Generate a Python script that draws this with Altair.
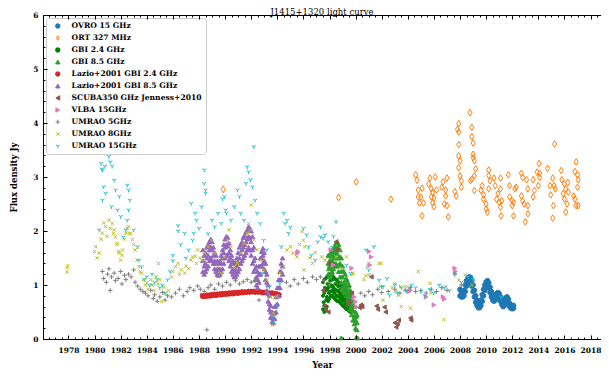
import altair as alt
import pandas as pd

SERIES = ["OVRO 15 GHz", "ORT 327 MHz", "GBI 2.4 GHz", "GBI 8.5 GHz",
          "Lazio+2001 GBI 2.4 GHz", "Lazio+2001 GBI 8.5 GHz",
          "SCUBA350 GHz Jenness+2010", "VLBA 15GHz",
          "UMRAO 5GHz", "UMRAO 8GHz", "UMRAO 15GHz"]

# ---------------- OVRO 15 GHz (dense band: two readings per epoch) ----------
ovro_t = [2008.0, 2008.1, 2008.2, 2008.3, 2008.4, 2008.5, 2008.6, 2008.7, 2008.8, 2008.9,
          2009.0, 2009.1, 2009.2, 2009.3, 2009.4, 2009.5, 2009.6, 2009.7, 2009.8, 2009.9,
          2010.0, 2010.1, 2010.2, 2010.3, 2010.4, 2010.5, 2010.6, 2010.7, 2010.8, 2010.9,
          2011.0, 2011.1, 2011.2, 2011.3, 2011.4, 2011.5, 2011.6, 2011.7, 2011.8, 2011.9,
          2012.0, 2012.1]
ovro_lo = [0.80, 0.78, 0.78, 0.80, 0.88, 0.98, 1.05, 1.08, 1.05, 0.98,
           0.88, 0.78, 0.68, 0.62, 0.58, 0.58, 0.62, 0.70, 0.80, 0.90,
           0.98, 1.00, 0.95, 0.86, 0.78, 0.72, 0.70, 0.72, 0.76, 0.78,
           0.76, 0.70, 0.64, 0.60, 0.62, 0.68, 0.70, 0.66, 0.60, 0.57,
           0.56, 0.57]
ovro_hi = [0.92, 0.88, 0.86, 0.90, 1.00, 1.08, 1.13, 1.15, 1.14, 1.08,
           1.00, 0.90, 0.80, 0.72, 0.66, 0.66, 0.72, 0.82, 0.92, 1.00,
           1.06, 1.08, 1.04, 0.96, 0.88, 0.80, 0.78, 0.80, 0.84, 0.86,
           0.84, 0.78, 0.72, 0.68, 0.70, 0.76, 0.78, 0.74, 0.66, 0.63,
           0.62, 0.62]

# ---------------- ORT 327 MHz ----------------
ort_year = [1989.85, 1998.7, 2000.05, 2002.7,
            2004.6, 2004.7, 2004.8, 2004.8, 2005.0, 2005.1, 2004.9, 2005.2, 2005.1,
            2005.7, 2006.1, 2005.6, 2005.8, 2005.9, 2005.8, 2006.0, 2005.9, 2006.0, 2006.2,
            2006.7, 2006.6, 2006.9, 2006.9, 2006.8, 2007.0, 2007.1, 2007.0,
            2007.6, 2007.7,
            2007.9, 2007.8, 2007.9, 2007.9, 2007.9, 2008.0, 2007.9, 2008.0, 2008.1, 2008.1,
            2008.76, 2008.9, 2008.9, 2009.0, 2009.0, 2009.0, 2009.1, 2009.2, 2009.1, 2008.9, 2008.8, 2009.1,
            2010.2, 2010.2, 2010.3, 2009.7, 2009.6, 2009.8, 2009.8, 2010.0, 2010.0, 2010.1, 2010.2,
            2010.6, 2011.1, 2010.7, 2010.9, 2010.8, 2011.0, 2011.1, 2011.15, 2011.2, 2011.1,
            2011.7, 2011.8, 2012.0, 2011.8, 2012.1, 2012.2, 2012.3, 2012.0, 2012.1,
            2012.7, 2012.8, 2012.7, 2012.8, 2012.9, 2013.0, 2013.1, 2013.2, 2013.2, 2013.2,
            2014.06, 2013.9, 2014.1, 2013.6, 2013.7, 2013.6, 2014.0, 2014.1,
            2014.7, 2014.9, 2014.95, 2015.1, 2015.15, 2015.1, 2015.25, 2015.3, 2015.2,
            2015.75, 2015.8, 2016.0, 2016.1, 2015.9, 2016.0, 2016.2, 2016.1, 2016.25, 2016.3,
            2016.9, 2016.8, 2017.0, 2017.05, 2017.0, 2016.7, 2016.8, 2016.9, 2017.05]
ort_flux = [2.77, 2.62, 2.91, 2.59,
            3.04, 2.94, 2.76, 2.63, 2.63, 2.79, 2.52, 2.52, 2.28,
            2.98, 3.00, 2.87, 2.78, 2.72, 2.63, 2.61, 2.52, 2.45, 2.76,
            2.91, 2.81, 2.76, 2.65, 2.50, 2.47, 2.26, 2.98,
            2.73, 2.65,
            3.99, 3.88, 3.83, 3.60, 3.39, 3.30, 3.17, 3.02, 2.93, 2.81,
            4.19, 3.92, 3.75, 3.63, 3.42, 3.36, 3.30, 3.15, 3.02, 2.96, 2.93, 2.75,
            3.13, 3.03, 2.93, 2.84, 2.75, 2.67, 2.59, 2.50, 2.41, 2.35, 2.78,
            2.98, 2.98, 2.84, 2.69, 2.59, 2.53, 2.44, 2.28, 2.56, 2.78,
            3.04, 2.84, 2.56, 2.63, 2.53, 2.78, 2.81, 2.47, 2.28,
            3.07, 2.99, 2.65, 2.56, 2.50, 2.17, 2.95, 2.78, 2.47, 2.32,
            3.25, 3.09, 3.07, 2.95, 2.75, 2.63, 2.84, 2.99,
            3.16, 2.84, 2.67, 2.98, 2.47, 2.24, 3.61, 2.78, 2.84,
            3.12, 2.95, 2.87, 2.78, 2.69, 2.59, 2.50, 2.35, 2.90, 2.72,
            3.28, 3.10, 3.04, 2.95, 2.81, 2.65, 2.59, 2.47, 2.47]

# ---------------- GBI 2.4 GHz (low / mid / high readings per epoch + scatter) ----------
gbi24_t = [1997.5, 1997.6, 1997.7, 1997.8, 1997.9, 1998.0, 1998.1, 1998.2, 1998.3, 1998.4, 1998.5,
           1998.6, 1998.7, 1998.8, 1998.9, 1999.0, 1999.1, 1999.2, 1999.3, 1999.4, 1999.5, 1999.6]
gbi24_lo = [0.55, 0.50, 0.55, 0.60, 0.70, 0.75, 0.80, 0.80, 0.78, 0.75, 0.72,
            0.70, 0.70, 0.68, 0.65, 0.62, 0.60, 0.58, 0.55, 0.55, 0.52, 0.50]
gbi24_mid = [0.80, 0.85, 0.90, 0.92, 0.95, 0.98, 1.00, 0.98, 0.95, 0.92, 0.90,
             0.90, 0.88, 0.85, 0.82, 0.80, 0.78, 0.75, 0.72, 0.70, 0.68, 0.65]
gbi24_hi = [1.05, 1.10, 1.12, 1.15, 1.18, 1.20, 1.20, 1.18, 1.15, 1.12, 1.10,
            1.08, 1.05, 1.02, 1.00, 0.98, 0.95, 0.92, 0.88, 0.85, 0.82, 0.80]
gbi24_sc_year = [1997.55, 1997.65, 1997.75, 1997.85, 1997.95, 1998.05, 1998.15, 1998.25,
                 1998.35, 1998.45, 1998.55, 1998.65, 1998.75, 1998.85, 1998.95, 1999.05,
                 1999.15, 1999.25, 1999.35, 1999.45, 1999.55, 1997.6, 1997.8, 1998.0,
                 1998.2, 1998.4, 1998.6, 1998.8, 1999.0, 1999.2, 1999.4]
gbi24_sc_flux = [0.68, 0.95, 0.72, 1.02, 0.85, 1.08, 0.88, 1.10, 0.86, 1.02, 0.80, 0.98,
                 0.78, 0.93, 0.74, 0.88, 0.70, 0.84, 0.64, 0.78, 0.60, 0.62, 0.78, 0.88,
                 0.90, 0.85, 0.80, 0.76, 0.71, 0.66, 0.62]

# ---------------- GBI 8.5 GHz ----------------
gbi85_t = [1997.9, 1998.0, 1998.1, 1998.2, 1998.3, 1998.4, 1998.5, 1998.6, 1998.7, 1998.8,
           1998.9, 1999.0, 1999.1, 1999.2, 1999.3, 1999.4, 1999.5, 1999.6, 1999.7, 1999.8,
           1999.9, 2000.0, 2000.1]
gbi85_lo = [1.20, 1.15, 1.20, 1.25, 1.30, 1.35, 1.40, 1.35, 1.25, 1.15,
            1.05, 0.95, 0.90, 0.85, 0.80, 0.72, 0.65, 0.55, 0.45, 0.35,
            0.28, 0.20, 0.17]
gbi85_mid = [1.40, 1.35, 1.40, 1.45, 1.50, 1.55, 1.60, 1.58, 1.50, 1.40,
             1.25, 1.15, 1.05, 1.00, 0.95, 0.90, 0.82, 0.72, 0.62, 0.52,
             0.42, 0.35, 0.30]
gbi85_hi = [1.55, 1.55, 1.60, 1.62, 1.68, 1.72, 1.78, 1.80, 1.75, 1.65,
            1.50, 1.35, 1.25, 1.20, 1.12, 1.05, 1.00, 0.90, 0.80, 0.70,
            0.60, 0.50, 0.45]
gbi85_sc_year = [1997.95, 1998.05, 1998.15, 1998.25, 1998.35, 1998.45, 1998.55, 1998.65,
                 1998.75, 1998.85, 1998.95, 1999.05, 1999.15, 1999.25, 1999.35, 1999.45,
                 1999.55, 1999.65, 1999.75, 1999.85, 1999.95, 2000.05,
                 1998.9, 2000.05, 2000.15]
gbi85_sc_flux = [1.30, 1.47, 1.30, 1.55, 1.40, 1.64, 1.50, 1.70, 1.38, 1.52, 1.15, 1.25,
                 0.98, 1.10, 0.88, 0.98, 0.75, 0.82, 0.55, 0.62, 0.35, 0.42,
                 0.02, 0.03, 0.02]

# ---------------- Lazio+2001 GBI 2.4 GHz ----------------
lazio24_t = [1988.2, 1988.3, 1988.4, 1988.5, 1988.6, 1988.7, 1988.8, 1988.9, 1989.0, 1989.1,
             1989.2, 1989.3, 1989.4, 1989.5, 1989.6, 1989.7, 1989.8, 1989.9, 1990.0, 1990.1,
             1990.2, 1990.3, 1990.4, 1990.5, 1990.6, 1990.7, 1990.8, 1990.9, 1991.0, 1991.1,
             1991.2, 1991.3, 1991.4, 1991.5, 1991.6, 1991.7, 1991.8, 1991.9, 1992.0, 1992.1,
             1992.2, 1992.3, 1992.4, 1992.5, 1992.6, 1992.7, 1992.8, 1992.9, 1993.0, 1993.1,
             1993.2, 1993.3, 1993.4, 1993.5, 1993.6, 1993.7, 1993.8, 1993.9, 1994.0, 1994.1,
             1994.2]
lazio24_lo = [0.78, 0.77, 0.78, 0.77, 0.78, 0.78, 0.79, 0.78, 0.79, 0.79,
              0.80, 0.79, 0.80, 0.80, 0.81, 0.80, 0.81, 0.81, 0.82, 0.81,
              0.82, 0.82, 0.82, 0.83, 0.82, 0.83, 0.83, 0.84, 0.83, 0.84,
              0.84, 0.85, 0.84, 0.85, 0.85, 0.85, 0.86, 0.85, 0.86, 0.86,
              0.86, 0.85, 0.86, 0.85, 0.86, 0.85, 0.85, 0.84, 0.85, 0.84,
              0.84, 0.83, 0.84, 0.83, 0.83, 0.82, 0.83, 0.82, 0.81, 0.80,
              0.79]
lazio24_hi = [0.82, 0.81, 0.82, 0.82, 0.83, 0.82, 0.83, 0.83, 0.84, 0.83,
              0.84, 0.84, 0.85, 0.84, 0.85, 0.85, 0.86, 0.85, 0.86, 0.86,
              0.86, 0.87, 0.86, 0.87, 0.87, 0.87, 0.88, 0.87, 0.88, 0.88,
              0.88, 0.89, 0.88, 0.89, 0.88, 0.89, 0.90, 0.89, 0.90, 0.89,
              0.90, 0.89, 0.90, 0.89, 0.89, 0.89, 0.88, 0.88, 0.88, 0.88,
              0.87, 0.87, 0.87, 0.86, 0.87, 0.86, 0.86, 0.85, 0.85, 0.84,
              0.83]

# ---------------- Lazio+2001 GBI 8.5 GHz ----------------
lazio85_t = [1988.3, 1988.4, 1988.5, 1988.6, 1988.7, 1988.8, 1988.9, 1989.0, 1989.1, 1989.2,
             1989.3, 1989.4, 1989.5, 1989.6, 1989.7, 1989.8, 1989.9, 1990.0, 1990.1, 1990.2,
             1990.3, 1990.4, 1990.5, 1990.6, 1990.7, 1990.8, 1990.9, 1991.0, 1991.1, 1991.2,
             1991.3, 1991.4, 1991.5, 1991.6, 1991.7, 1991.8, 1991.9, 1992.0, 1992.1, 1992.2,
             1992.3, 1992.4, 1992.5, 1992.6, 1992.7, 1992.8, 1992.9, 1993.0, 1993.1, 1993.2,
             1993.3, 1993.4, 1993.5, 1993.6, 1993.7, 1993.8, 1993.9, 1994.0, 1994.1, 1994.2,
             1994.3, 1994.4]
lazio85_lo = [1.25, 1.20, 1.25, 1.30, 1.35, 1.45, 1.50, 1.45, 1.40, 1.30,
              1.25, 1.20, 1.18, 1.20, 1.25, 1.30, 1.40, 1.50, 1.55, 1.55,
              1.45, 1.35, 1.25, 1.20, 1.15, 1.15, 1.20, 1.25, 1.30, 1.40,
              1.45, 1.50, 1.55, 1.60, 1.65, 1.70, 1.65, 1.55, 1.40, 1.25,
              1.10, 1.00, 0.95, 1.05, 1.20, 1.35, 1.40, 1.30, 1.10, 0.90,
              0.70, 0.55, 0.40, 0.32, 0.30, 0.38, 0.50, 0.65, 0.80, 0.95,
              1.10, 1.20]
lazio85_mid = [1.45, 1.35, 1.40, 1.50, 1.55, 1.65, 1.70, 1.65, 1.55, 1.45,
               1.40, 1.30, 1.28, 1.30, 1.40, 1.50, 1.60, 1.70, 1.75, 1.72,
               1.60, 1.50, 1.40, 1.30, 1.25, 1.28, 1.35, 1.42, 1.50, 1.58,
               1.65, 1.70, 1.75, 1.80, 1.85, 1.90, 1.88, 1.80, 1.65, 1.45,
               1.30, 1.15, 1.10, 1.20, 1.35, 1.50, 1.55, 1.45, 1.25, 1.05,
               0.85, 0.65, 0.50, 0.40, 0.38, 0.48, 0.62, 0.80, 0.95, 1.10,
               1.25, 1.35]
lazio85_hi = [1.65, 1.55, 1.60, 1.70, 1.75, 1.80, 1.85, 1.80, 1.70, 1.60,
              1.55, 1.45, 1.40, 1.45, 1.55, 1.65, 1.75, 1.85, 1.90, 1.88,
              1.78, 1.65, 1.55, 1.45, 1.40, 1.42, 1.50, 1.60, 1.70, 1.75,
              1.80, 1.88, 1.92, 1.98, 2.02, 2.08, 2.05, 2.00, 1.90, 1.70,
              1.50, 1.35, 1.25, 1.35, 1.50, 1.62, 1.68, 1.60, 1.40, 1.20,
              1.00, 0.80, 0.62, 0.50, 0.48, 0.60, 0.78, 0.95, 1.10, 1.25,
              1.40, 1.50]

# ---------------- SCUBA350 GHz Jenness+2010 ----------------
scuba_year = [1997.5, 1997.6, 1997.7, 1997.9, 1998.0, 1998.2, 1998.5, 1998.55, 1999.4, 1999.45,
              1999.7, 2000.3, 2000.4, 2000.5, 2001.2, 2001.6, 2001.7, 2002.2, 2002.3, 2003.0,
              2003.1, 2003.2, 2003.3, 2004.2, 2004.25]
scuba_flux = [0.90, 0.61, 0.54, 0.50, 1.40, 1.37, 1.80, 1.65, 0.65, 0.70,
              0.85, 0.58, 0.63, 0.60, 1.15, 0.61, 0.55, 0.59, 0.50, 0.30,
              0.22, 0.28, 0.35, 0.39, 0.35]

# ---------------- VLBA 15GHz ----------------
vlba_year = [1995.55, 1995.6, 1998.1, 1998.3, 1999.7, 1999.9, 2000.0, 2000.05, 2001.05, 2001.1,
             2001.2, 2004.1, 2004.2, 2005.4, 2006.0, 2006.7, 2006.8, 2007.6, 2007.65]
vlba_flux = [1.59, 1.62, 1.65, 1.37, 1.31, 0.78, 0.69, 0.60, 1.62, 1.37,
             1.52, 0.88, 0.90, 0.78, 0.63, 0.78, 0.74, 1.31, 1.25]

# ---------------- UMRAO 5GHz ----------------
u5_year = [1980.6, 1980.7, 1980.9, 1981.0, 1981.1, 1981.2, 1981.3, 1981.5, 1981.6, 1981.8,
           1982.0, 1982.1, 1982.3, 1982.4, 1982.6, 1982.8, 1983.0, 1983.1, 1983.3, 1983.5,
           1983.7, 1983.9, 1984.1, 1984.3, 1984.5, 1984.6, 1984.8, 1985.0, 1985.2, 1985.4,
           1985.6, 1985.9, 1986.2, 1986.5, 1986.8, 1987.1, 1987.3, 1987.6, 1987.9, 1988.1,
           1988.4, 1988.6, 1988.7, 1988.9, 1989.2, 1989.5, 1989.8, 1990.1, 1990.4, 1990.8,
           1991.1, 1991.4, 1991.7, 1992.0, 1992.3, 1992.6, 1994.7, 1995.0, 1995.3, 1995.6,
           1996.0, 1996.3, 1996.7, 1997.0, 1997.3, 1997.6, 1998.0, 2000.4, 2000.7, 2001.0,
           2001.3, 2001.7, 2002.0, 2002.5, 2003.0, 2003.4, 2003.8, 2004.2, 2004.6, 2005.0,
           2005.4, 2005.8, 2006.2, 2006.6, 2007.0, 2007.6, 2008.1]
u5_flux = [1.25, 1.12, 1.05, 1.20, 1.30, 0.90, 1.15, 1.22, 1.08, 1.12,
           1.25, 1.02, 1.18, 1.10, 1.20, 1.15, 1.28, 1.05, 0.98, 0.92,
           0.88, 0.85, 0.80, 0.90, 0.75, 0.82, 0.70, 0.78, 0.86, 0.72,
           0.80, 0.78, 0.85, 0.92, 0.80, 0.88, 0.95, 0.90, 0.98, 0.92,
           0.88, 0.17, 0.95, 1.00, 0.92, 1.02, 0.98, 1.05, 1.00, 1.08,
           1.02, 1.06, 1.10, 1.05, 1.08, 0.72, 1.05, 0.98, 1.10, 1.02,
           1.12, 1.05, 1.15, 1.10, 1.15, 1.08, 1.00, 0.85, 0.80, 0.88,
           0.82, 0.92, 0.86, 0.88, 0.92, 0.85, 0.90, 0.95, 0.88, 0.90,
           0.85, 0.92, 0.88, 0.95, 0.90, 1.20, 1.00]

# ---------------- UMRAO 8GHz ----------------
u8_year = [1977.9, 1977.9, 1977.95,
           1980.0, 1980.1, 1980.2, 1980.35, 1980.5, 1980.6, 1980.7, 1980.85, 1980.95, 1981.1,
           1981.2, 1981.35, 1981.45, 1981.5, 1981.6, 1981.7, 1981.75, 1981.85, 1981.9, 1982.0,
           1982.1, 1982.15, 1982.3, 1982.4, 1982.5, 1982.6, 1982.7, 1982.75, 1982.9, 1983.0,
           1983.1, 1983.25, 1983.4, 1983.5, 1983.6, 1983.75, 1983.9, 1984.0, 1984.1, 1984.3,
           1984.4, 1984.55, 1984.7, 1984.85, 1984.9, 1985.0, 1985.15, 1985.3, 1985.4, 1985.65,
           1985.9, 1986.0, 1986.2, 1986.4, 1986.5, 1986.65, 1986.9, 1987.0, 1987.2, 1987.4,
           1987.5, 1987.7, 1987.8, 1987.9, 1988.1, 1988.2, 1988.45, 1988.7, 1988.95, 1989.2,
           1989.45, 1989.7, 1989.95, 1990.2, 1990.3, 1990.45, 1990.7, 1990.95, 1991.2, 1991.45,
           1991.7, 1991.8, 1991.95, 1992.0, 1992.2, 1992.45, 1992.7, 1992.95, 1993.2, 1993.5,
           1993.6, 1993.7, 1993.95, 1994.2, 1994.5, 1994.75, 1995.0, 1995.2, 1995.5, 1995.7,
           1995.9, 1996.0, 1996.1, 1996.05, 1996.5, 1996.7, 1996.9, 1997.4, 1997.65, 1998.5,
           1998.9, 1999.3, 1999.75, 1999.8, 2000.65, 2000.8, 2000.9, 2001.0, 2001.05, 2001.8,
           2001.95, 2001.9, 2002.1, 2002.8, 2003.0, 2003.1, 2003.3, 2003.45, 2003.5, 2003.8,
           2004.2, 2004.8, 2004.0, 2005.7, 2005.8, 2006.9, 2006.75, 2007.9, 2008.4, 2008.9]
u8_flux = [1.24, 1.32, 1.36,
           1.62, 1.71, 1.50, 1.59, 1.85, 1.96, 2.15, 2.08, 1.90, 2.20,
           2.05, 2.14, 1.95, 2.02, 1.89, 1.75, 1.77, 1.62, 1.59, 1.46,
           1.55, 1.65, 1.85, 1.96, 2.05, 2.08, 1.95, 1.96, 1.84, 1.75,
           1.65, 1.46, 1.34, 1.25, 1.22, 1.10, 1.00, 1.04, 0.92, 1.10,
           1.00, 0.90, 1.15, 1.02, 1.40, 1.10, 0.69, 0.96, 0.85, 0.90,
           1.15, 1.25, 1.34, 1.40, 1.20, 1.28, 1.22, 1.35, 1.30, 1.46,
           1.52, 1.53, 1.40, 1.65, 1.50, 1.46, 1.59, 1.71, 1.83, 1.59,
           1.34, 1.22, 1.52, 1.83, 2.02, 1.71, 1.34, 1.40, 1.59, 1.77,
           1.96, 2.14, 2.02, 2.48, 1.83, 1.65, 1.46, 1.28, 1.09, 0.78,
           0.26, 0.48, 0.78, 1.22, 1.34, 1.65, 1.71, 1.59, 1.52, 1.75,
           1.99, 1.83, 1.71, 1.28, 1.50, 1.40, 1.60, 1.52, 1.46, 1.52,
           1.31, 1.52, 1.19, 1.22, 1.10, 1.17, 1.34, 1.40, 1.19, 1.40,
           1.40, 0.97, 0.72, 0.95, 1.03, 0.88, 0.81, 0.97, 0.60, 0.97,
           0.57, 1.25, 0.97, 1.03, 0.85, 0.97, 0.36, 1.09, 1.19, 1.00]

# ---------------- UMRAO 15GHz ----------------
u15_year = [1980.35, 1980.5, 1980.55, 1980.6, 1980.6, 1980.7, 1980.85, 1980.8, 1981.1, 1981.2,
            1981.3, 1981.35, 1981.5, 1981.6, 1981.6, 1981.75, 1981.9, 1982.0, 1982.2, 1982.4,
            1982.5, 1982.5, 1982.6, 1982.6, 1982.7, 1983.0, 1983.3, 1983.4, 1983.6, 1983.8,
            1984.0, 1984.2, 1984.4, 1984.6, 1984.8, 1985.0, 1985.2, 1985.4, 1985.6, 1985.8,
            1986.0, 1986.0, 1986.4, 1986.4, 1986.6, 1986.9, 1987.0, 1987.2, 1987.4, 1987.5,
            1987.6, 1987.7, 1987.8, 1988.0, 1988.2, 1988.4, 1988.4, 1988.5, 1988.5, 1988.7,
            1989.0, 1989.2, 1989.45, 1989.7, 1989.8, 1989.95, 1990.05, 1990.1, 1990.45, 1990.7,
            1990.95, 1991.1, 1991.2, 1991.45, 1991.6, 1991.7, 1991.8, 1991.95, 1992.1, 1992.2,
            1992.3, 1992.45, 1992.7, 1992.85, 1992.95, 1993.2, 1993.4, 1993.6, 1993.7, 1994.0,
            1994.2, 1994.3, 1994.5, 1994.6, 1994.75, 1994.85, 1995.0, 1996.0, 1996.25, 1996.4,
            1996.6, 1996.9, 1997.1, 1997.3, 1997.3, 1997.5, 1997.65, 1997.9, 1998.2, 1998.3,
            1998.5, 1999.3, 1999.6, 2000.8, 2001.0, 2001.4, 2001.8, 2002.0, 2002.1, 2002.4,
            2002.6, 2003.0, 2003.2, 2003.5, 2003.9, 2004.3, 2004.6, 2005.0, 2005.3, 2005.7,
            2006.0, 2006.4, 2006.8, 2007.2, 2007.6, 2008.1, 2008.6, 2009.0, 2011.15]
u15_flux = [2.02, 3.25, 3.15, 2.57, 3.13, 2.82, 2.70, 3.20, 3.38, 3.28,
            2.45, 3.20, 2.94, 3.47, 2.76, 2.39, 2.64, 2.27, 1.89, 2.02,
            2.20, 2.85, 2.76, 2.39, 2.57, 2.02, 1.71, 1.46, 1.34, 1.10,
            1.15, 1.00, 1.20, 1.05, 1.10, 0.95, 1.00, 0.85, 1.10, 1.25,
            1.55, 1.45, 2.10, 2.00, 1.75, 1.96, 1.50, 1.65, 2.51, 1.83,
            1.96, 2.33, 2.20, 2.05, 2.45, 3.13, 2.88, 2.70, 2.76, 1.95,
            2.20, 2.08, 2.33, 2.14, 2.60, 2.64, 2.39, 2.33, 2.20, 2.45,
            2.76, 2.64, 2.33, 2.20, 2.88, 3.19, 3.10, 2.95, 2.82, 3.56,
            2.57, 2.33, 2.14, 1.22, 1.83, 1.65, 0.97, 0.42, 0.29, 0.60,
            1.03, 1.71, 2.33, 2.14, 2.20, 1.96, 2.07, 2.05, 1.93, 1.71,
            1.55, 1.46, 1.80, 2.08, 1.90, 1.87, 1.93, 1.80, 1.70, 1.90,
            2.17, 1.37, 1.22, 1.65, 1.28, 1.71, 1.09, 0.97, 0.97, 1.12,
            0.81, 1.00, 0.85, 0.95, 0.90, 1.00, 0.95, 0.88, 0.80, 0.92,
            0.85, 1.00, 0.95, 0.90, 1.20, 1.05, 1.15, 1.10, 0.78]

# ---------------- axis ticks ----------------
x_major = [1978, 1980, 1982, 1984, 1986, 1988, 1990, 1992, 1994, 1996, 1998,
           2000, 2002, 2004, 2006, 2008, 2010, 2012, 2014, 2016, 2018]
x_minor = [1976.5 + 0.5 * i for i in range(85)]
y_major = [0, 1, 2, 3, 4, 5, 6]
y_minor = [round(0.2 * i, 1) for i in range(31)]

# ---------------- marker styles (per series, in SERIES order) ----------------
SHAPES = ["circle",
          "M0,-1L0.62,0L0,1L-0.62,0Z",
          "circle",
          "triangle-up",
          "circle",
          "triangle-up",
          "triangle-left",
          "triangle-right",
          "M-1,0L1,0M0,-1L0,1",
          "M-0.8,-0.8L0.8,0.8M-0.8,0.8L0.8,-0.8",
          "M0,0L0,1M0,0L-0.87,-0.5M0,0L0.87,-0.5"]
STROKES = ["#1f77b4", "#ff7f0e", "#008000", "#2ca02c", "#d62728", "#9467bd",
           "#8c564b", "#e377c2", "#7f7f7f", "#bcbd22", "#17becf"]
FILLS = ["#1f77b4", "rgba(255,255,255,0)", "#008000", "#2ca02c", "#d62728", "#9467bd",
         "#8c564b", "#e377c2", "#7f7f7f", "#bcbd22", "#17becf"]
SIZES = [22, 44, 9, 20, 7, 20, 18, 18, 20, 18, 22]

# ---------------- assemble ----------------
rows = []


def add(name, years, fluxes):
    assert len(years) == len(fluxes), name
    size = SIZES[SERIES.index(name)]
    for t, f in zip(years, fluxes):
        rows.append({"year": t, "flux": f, "series": name, "msize": size})


add(SERIES[0], ovro_t, ovro_lo)
add(SERIES[0], ovro_t, ovro_hi)
add(SERIES[1], ort_year, ort_flux)
add(SERIES[2], gbi24_t, gbi24_lo)
add(SERIES[2], gbi24_t, gbi24_mid)
add(SERIES[2], gbi24_t, gbi24_hi)
add(SERIES[2], gbi24_sc_year, gbi24_sc_flux)
add(SERIES[3], gbi85_t, gbi85_lo)
add(SERIES[3], gbi85_t, gbi85_mid)
add(SERIES[3], gbi85_t, gbi85_hi)
add(SERIES[3], gbi85_sc_year, gbi85_sc_flux)
add(SERIES[4], lazio24_t, lazio24_lo)
add(SERIES[4], lazio24_t, lazio24_hi)
add(SERIES[5], lazio85_t, lazio85_lo)
add(SERIES[5], lazio85_t, lazio85_mid)
add(SERIES[5], lazio85_t, lazio85_hi)
add(SERIES[6], scuba_year, scuba_flux)
add(SERIES[7], vlba_year, vlba_flux)
add(SERIES[8], u5_year, u5_flux)
add(SERIES[9], u8_year, u8_flux)
add(SERIES[10], u15_year, u15_flux)
df = pd.DataFrame(rows)

W, H = 558, 324
FONT = "DejaVu Serif"
xs = alt.Scale(domain=[1976.05, 2018.8], nice=False, zero=False)
ys = alt.Scale(domain=[0, 6], nice=False, zero=False)

leg = alt.Legend(title=None, orient="top-left", offset=3, fillColor="rgba(255,255,255,0.85)",
                 strokeColor="#cccccc", cornerRadius=3, padding=4,
                 labelFont=FONT, labelFontWeight="bold", labelFontSize=7.6, labelLimit=400,
                 labelColor="black", rowPadding=4, symbolStrokeWidth=1, labelOffset=10,
                 symbolOffset=4, clipHeight=8, symbolSize=20)

lab = dict(labelFont=FONT, labelFontWeight="bold", labelFontSize=7.5, labelColor="black",
           labelFlush=False, labelOverlap=False, titleFont=FONT, titleFontWeight="bold",
           titleFontSize=8.5, titleColor="black")

points = alt.Chart(df).mark_point(strokeWidth=1, opacity=1).encode(
    x=alt.X("year:Q", scale=xs,
            axis=alt.Axis(values=x_major, format="d", ticks=False, domain=True,
                          domainColor="black", domainWidth=1, grid=False,
                          labelPadding=7, title="Year", titlePadding=7, **lab)),
    y=alt.Y("flux:Q", scale=ys,
            axis=alt.Axis(values=y_major, format="d", ticks=False, domain=True,
                          domainColor="black", domainWidth=1, grid=False,
                          labelPadding=5, title="Flux density Jy", titlePadding=14, **lab)),
    shape=alt.Shape("series:N", scale=alt.Scale(domain=SERIES, range=SHAPES), legend=leg),
    stroke=alt.Stroke("series:N", scale=alt.Scale(domain=SERIES, range=STROKES), legend=leg),
    fill=alt.Fill("series:N", scale=alt.Scale(domain=SERIES, range=FILLS), legend=leg),
    size=alt.Size("msize:Q", scale=None, legend=None),
)


def ticks_axis(orient, values, length):
    # an axis shifted inwards by its own tick length, so the ticks point into the plot
    return alt.Axis(orient=orient, values=values, offset=-length, tickSize=length,
                    ticks=True, labels=False, domain=False, grid=False, title=None,
                    tickColor="black", tickWidth=1, zindex=1)


def tick_layer(xorient, yorient, xvals, yvals, length):
    yaxis = ticks_axis(yorient, yvals, length) if yorient else None
    return alt.Chart(df).mark_point(opacity=0).encode(
        x=alt.X("year:Q", scale=xs, axis=ticks_axis(xorient, xvals, length)),
        y=alt.Y("flux:Q", scale=ys, axis=yaxis),
    )


top_line = alt.Chart(df).mark_point(opacity=0).encode(
    x=alt.X("year:Q", scale=xs,
            axis=alt.Axis(orient="top", values=x_major, ticks=False, labels=False, domain=True,
                          domainColor="black", domainWidth=1, grid=False, title=None)),
    y=alt.Y("flux:Q", scale=ys, axis=None),
)

chart = alt.layer(
    points,
    tick_layer("bottom", "left", x_major, y_major, 4),
    tick_layer("bottom", "left", x_minor, y_minor, 2),
    tick_layer("top", None, x_major, None, 4),
    tick_layer("top", None, x_minor, None, 2),
    top_line,
).resolve_axis(x="independent", y="independent").properties(
    width=W, height=H,
    title=alt.TitleParams("J1415+1320 light curve", font=FONT, fontSize=8.5,
                          fontWeight="normal", anchor="middle", frame="group",
                          offset=-12.5, baseline="alphabetic", color="black"),
    autosize=alt.AutoSizeParams(type="none"),
    padding={"left": 35, "top": 7, "right": 0, "bottom": 31},
).configure_view(stroke=None)

chart.save("out.html", embed_options={"renderer": "svg", "actions": False})
